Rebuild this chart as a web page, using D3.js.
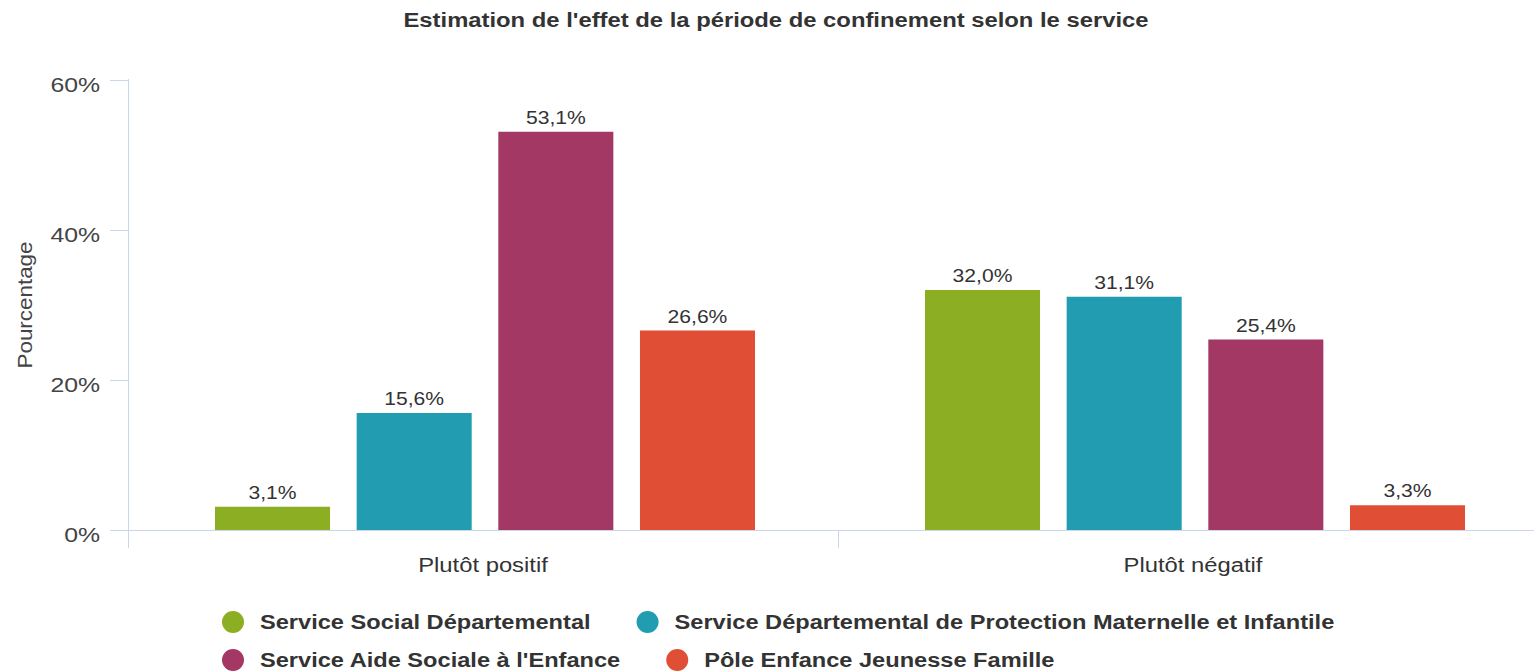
<!DOCTYPE html>
<html>
<head>
<meta charset="utf-8">
<script src="https://cdn.jsdelivr.net/npm/d3@7"></script>
<style>
  body { margin: 0; background: #fff; }
  text { font-family: "Liberation Sans", Arial, sans-serif; }
</style>
</head>
<body>
<script>
// data
var categories = ["Plutôt positif", "Plutôt négatif"];
var seriesNames = [
  "Service Social Départemental",
  "Service Départemental de Protection Maternelle et Infantile",
  "Service Aide Sociale à l'Enfance",
  "Pôle Enfance Jeunesse Famille"
];
var seriesColors = ["#8cae22", "#229cb0", "#a33865", "#e04e35"];
var ssdValues = [3.1, 32.0];
var pmiValues = [15.6, 31.1];
var aseValues = [53.1, 25.4];
var pejfValues = [26.6, 3.3];
var yTicks = [0, 20, 40, 60];

var values = [ssdValues, pmiValues, aseValues, pejfValues];

var width = 1534, height = 671;

var svg = d3.select("body").append("svg")
    .attr("width", width)
    .attr("height", height);

// the reference text is wider than Liberation Sans at the same height,
// so stretch each label horizontally
function stretch(sel, k) {
  sel.each(function() {
    var l = this.getComputedTextLength();
    d3.select(this).attr("textLength", l * k).attr("lengthAdjust", "spacingAndGlyphs");
  });
}

// scales
var y = d3.scaleLinear().domain([0, 60]).range([530, 80]);
var x0 = d3.scaleBand().domain(categories).range([128, 1548]);
var x1 = d3.scaleBand().domain(d3.range(seriesNames.length))
    .range([2, x0.bandwidth() + 2]).paddingInner(0.188).paddingOuter(0.6);

var fmt = function(v) { return v.toFixed(1).replace(".", ",") + "%"; };

// title
svg.append("text")
    .attr("x", 776).attr("y", 27)
    .attr("text-anchor", "middle")
    .style("font-size", "20px").style("font-weight", "bold").style("fill", "#333")
    .text("Estimation de l'effet de la période de confinement selon le service")
    .call(stretch, 1.19);

// y axis
var yAxis = svg.append("g")
    .attr("transform", "translate(128,0)")
    .call(d3.axisLeft(y).tickValues(yTicks).tickSize(18).tickPadding(10)
      .tickFormat(function(d) { return d + "%"; }));
yAxis.select(".domain").remove();
yAxis.selectAll(".tick line").attr("stroke", "#ccd6eb");
yAxis.selectAll(".tick text").style("font-size", "20px").style("fill", "#444")
    .attr("font-family", null).attr("dy", "0.95em").attr("y", -8)
    .call(stretch, 1.24);
svg.append("line")
    .attr("x1", 128.5).attr("x2", 128.5).attr("y1", 79).attr("y2", 548)
    .attr("stroke", "#ccd6eb");

svg.append("text")
    .attr("transform", "translate(32," + y(30) + ") rotate(-90)")
    .attr("text-anchor", "middle")
    .style("font-size", "20px").style("fill", "#444")
    .text("Pourcentage")
    .call(stretch, 1.12);

// x axis
svg.append("line")
    .attr("x1", 128).attr("x2", width).attr("y1", 530.5).attr("y2", 530.5)
    .attr("stroke", "#ccd6eb");
svg.append("line")
    .attr("x1", x0(categories[1]) + 0.5).attr("x2", x0(categories[1]) + 0.5)
    .attr("y1", 530).attr("y2", 548)
    .attr("stroke", "#ccd6eb");
svg.selectAll("text.cat")
    .data(categories).enter().append("text")
    .attr("class", "cat")
    .attr("x", function(d) { return x0(d) + x0.bandwidth() / 2; })
    .attr("y", 572)
    .attr("text-anchor", "middle")
    .style("font-size", "20px").style("fill", "#333")
    .text(function(d) { return d; })
    .call(stretch, 1.19);

// bars
var groups = svg.selectAll("g.grp")
    .data(categories).enter().append("g")
    .attr("class", "grp")
    .attr("transform", function(d) { return "translate(" + x0(d) + ",0)"; });

groups.each(function(cat, ci) {
  var g = d3.select(this);
  var rows = values.map(function(v, si) { return {s: si, v: v[ci]}; });
  g.selectAll("rect").data(rows).enter().append("rect")
      .attr("x", function(d) { return x1(d.s); })
      .attr("width", x1.bandwidth())
      .attr("y", function(d) { return y(d.v); })
      .attr("height", function(d) { return y(0) - y(d.v); })
      .attr("fill", function(d) { return seriesColors[d.s]; });
  g.selectAll("text").data(rows).enter().append("text")
      .attr("x", function(d) { return x1(d.s) + x1.bandwidth() / 2; })
      .attr("y", function(d) { return y(d.v) - 8; })
      .attr("text-anchor", "middle")
      .style("font-size", "19px").style("fill", "#333")
      .text(function(d) { return fmt(d.v); })
      .call(stretch, 1.11);
});

// legend
var legend = svg.append("g");
var rowsL = [[0, 1], [2, 3]];
rowsL.forEach(function(row, ri) {
  var xx = 233;
  row.forEach(function(si) {
    var cy = 622 + ri * 38;
    legend.append("circle")
        .attr("cx", xx).attr("cy", cy).attr("r", 11)
        .attr("fill", seriesColors[si]);
    var t = legend.append("text")
        .attr("x", xx + 27).attr("y", cy + 7)
        .style("font-size", "20px").style("font-weight", "bold").style("fill", "#333")
        .text(seriesNames[si]);
    var l = t.node().getComputedTextLength() * 1.18;
    t.attr("textLength", l).attr("lengthAdjust", "spacingAndGlyphs");
    xx += 27 + l + 57;
  });
});
</script>
</body>
</html>
